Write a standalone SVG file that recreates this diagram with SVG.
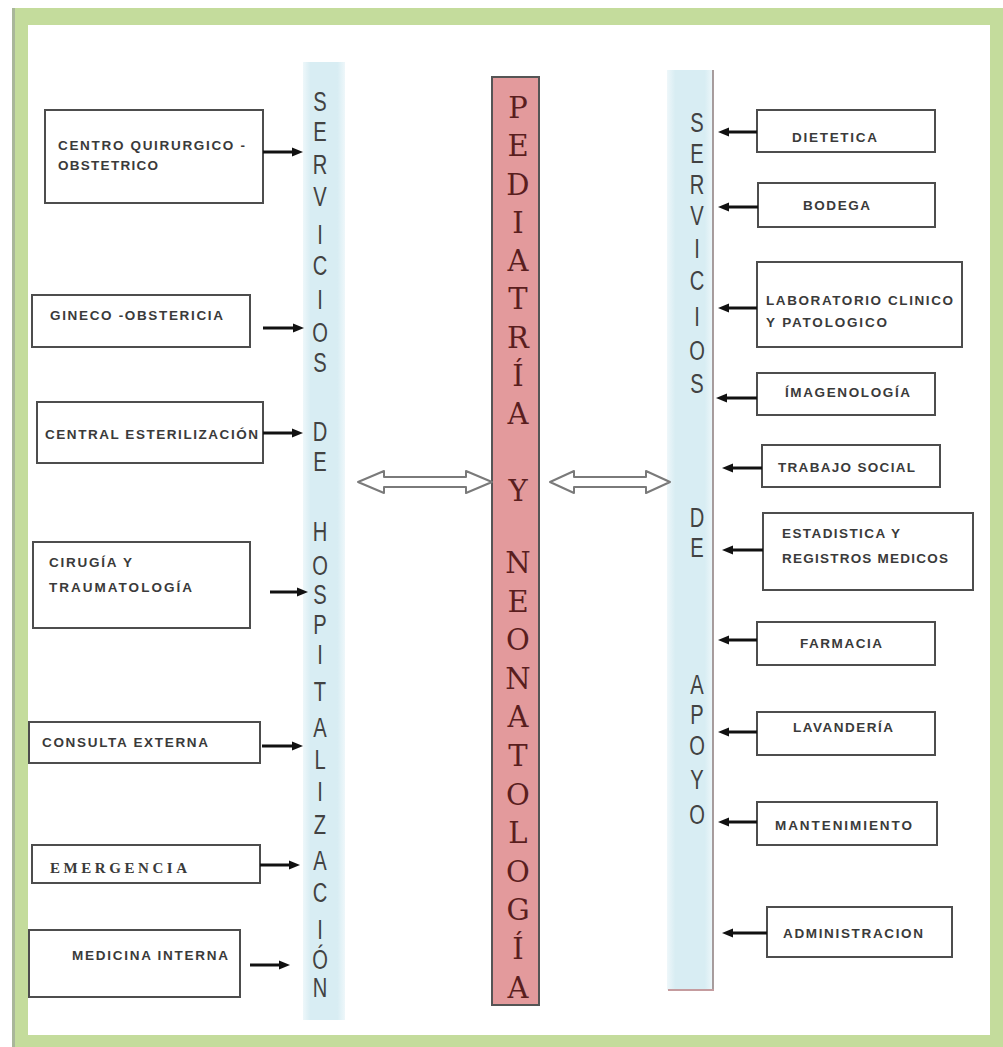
<svg xmlns="http://www.w3.org/2000/svg" width="1003" height="1047" viewBox="0 0 1003 1047">
  <defs>
    <linearGradient id="bandFill" x1="0" y1="0" x2="1" y2="0">
      <stop offset="0" stop-color="#eef7fa"/>
      <stop offset="0.18" stop-color="#d8edf3"/>
      <stop offset="0.82" stop-color="#d8edf3"/>
      <stop offset="1" stop-color="#eef7fa"/>
    </linearGradient>
    <marker id="head" markerUnits="userSpaceOnUse" markerWidth="12" markerHeight="10" refX="3" refY="5" orient="auto">
      <path d="M0,0.5 L11,5 L0,9.5 z" fill="#111"/>
    </marker>
    <style>
      .box { fill: #fff; stroke: #4d4d4d; stroke-width: 2; }
      .lbl { font-family: "Liberation Sans", Arial, sans-serif; font-size: 13.5px; font-weight: bold; fill: #3a3a3a; }
      .lblSerif { font-family: "Liberation Serif", "Times New Roman", serif; font-size: 15px; font-weight: bold; fill: #3a3a3a; }
      .band { fill: url(#bandFill); }
      .bandTxt { font-family: "Liberation Sans", Arial, sans-serif; font-size: 28px; fill: #424242; text-anchor: middle; }
      .core { fill: #e39a9c; stroke: #555; stroke-width: 2; }
      .coreTxt { font-family: "DejaVu Serif", "Liberation Serif", serif; font-size: 29px; fill: #5a1e1e; text-anchor: middle; }
      .link { stroke: #111; stroke-width: 3; fill: none; marker-end: url(#head); }
      .dbl { fill: #fff; stroke: #7a7a7a; stroke-width: 2; stroke-linejoin: round; }
    </style>
  </defs>

  <!-- page frame -->
  <rect x="12" y="8" width="991" height="1039" fill="#c4dc9c"/>
  <rect x="12" y="8" width="3" height="1039" fill="#a9b79a"/>
  <rect x="28" y="25" width="962" height="1010" fill="#fff"/>

  <!-- vertical band: servicios de hospitalizacion -->
  <g id="band-hospitalizacion">
    <rect class="band" x="303" y="62" width="42" height="958"/>
    <g transform="translate(320,0) scale(0.72,1)">
      <text class="bandTxt" x="0" y="111">S</text>
      <text class="bandTxt" x="0" y="141">E</text>
      <text class="bandTxt" x="0" y="174">R</text>
      <text class="bandTxt" x="0" y="206">V</text>
      <text class="bandTxt" x="0" y="244">I</text>
      <text class="bandTxt" x="0" y="275">C</text>
      <text class="bandTxt" x="0" y="309">I</text>
      <text class="bandTxt" x="0" y="342">O</text>
      <text class="bandTxt" x="0" y="372">S</text>
      <text class="bandTxt" x="0" y="441">D</text>
      <text class="bandTxt" x="0" y="471">E</text>
      <text class="bandTxt" x="0" y="541">H</text>
      <text class="bandTxt" x="0" y="575">O</text>
      <text class="bandTxt" x="0" y="604">S</text>
      <text class="bandTxt" x="0" y="634">P</text>
      <text class="bandTxt" x="0" y="664">I</text>
      <text class="bandTxt" x="0" y="701">T</text>
      <text class="bandTxt" x="0" y="737">A</text>
      <text class="bandTxt" x="0" y="769">L</text>
      <text class="bandTxt" x="0" y="801">I</text>
      <text class="bandTxt" x="0" y="834">Z</text>
      <text class="bandTxt" x="0" y="870">A</text>
      <text class="bandTxt" x="0" y="902">C</text>
      <text class="bandTxt" x="0" y="939">I</text>
      <text class="bandTxt" x="0" y="969">Ó</text>
      <text class="bandTxt" x="0" y="997">N</text>
    </g>
  </g>

  <!-- vertical band: servicios de apoyo -->
  <g id="band-apoyo">
    <rect class="band" x="667" y="70" width="46" height="920"/>
    <line x1="713" y1="70" x2="713" y2="990" stroke="#8c7d7d" stroke-width="1.5"/>
    <line x1="668" y1="990" x2="714" y2="990" stroke="#c59c9f" stroke-width="2"/>
    <g transform="translate(697,0) scale(0.72,1)">
      <text class="bandTxt" x="0" y="132">S</text>
      <text class="bandTxt" x="0" y="163">E</text>
      <text class="bandTxt" x="0" y="194">R</text>
      <text class="bandTxt" x="0" y="225">V</text>
      <text class="bandTxt" x="0" y="258">I</text>
      <text class="bandTxt" x="0" y="290">C</text>
      <text class="bandTxt" x="0" y="326">I</text>
      <text class="bandTxt" x="0" y="360">O</text>
      <text class="bandTxt" x="0" y="393">S</text>
      <text class="bandTxt" x="0" y="527">D</text>
      <text class="bandTxt" x="0" y="557">E</text>
      <text class="bandTxt" x="0" y="694">A</text>
      <text class="bandTxt" x="0" y="724">P</text>
      <text class="bandTxt" x="0" y="755">O</text>
      <text class="bandTxt" x="0" y="789">Y</text>
      <text class="bandTxt" x="0" y="824">O</text>
    </g>
  </g>

  <!-- central unit -->
  <g id="pediatria-neonatologia">
    <rect class="core" x="492" y="77" width="47" height="928"/>
    <text class="coreTxt" x="518" y="118">P</text>
    <text class="coreTxt" x="518" y="156">E</text>
    <text class="coreTxt" x="518" y="195">D</text>
    <text class="coreTxt" x="518" y="233">I</text>
    <text class="coreTxt" x="518" y="271">A</text>
    <text class="coreTxt" x="518" y="309">T</text>
    <text class="coreTxt" x="518" y="348">R</text>
    <text class="coreTxt" x="518" y="386">Í</text>
    <text class="coreTxt" x="518" y="424">A</text>
    <text class="coreTxt" x="518" y="501">Y</text>
    <text class="coreTxt" x="518" y="573">N</text>
    <text class="coreTxt" x="518" y="612">E</text>
    <text class="coreTxt" x="518" y="650">O</text>
    <text class="coreTxt" x="518" y="689">N</text>
    <text class="coreTxt" x="518" y="727">A</text>
    <text class="coreTxt" x="518" y="766">T</text>
    <text class="coreTxt" x="518" y="805">O</text>
    <text class="coreTxt" x="518" y="843">L</text>
    <text class="coreTxt" x="518" y="882">O</text>
    <text class="coreTxt" x="518" y="920">G</text>
    <text class="coreTxt" x="518" y="959">Í</text>
    <text class="coreTxt" x="518" y="998">A</text>
  </g>

  <!-- hospitalization services -->
  <g id="centro-quirurgico">
    <rect class="box" x="45" y="110" width="218" height="93"/>
    <text class="lbl" x="58" y="150" textLength="187" lengthAdjust="spacing">CENTRO QUIRURGICO -</text>
    <text class="lbl" x="58" y="170" textLength="100" lengthAdjust="spacing">OBSTETRICO</text>
  </g>
  <g id="gineco-obstetricia">
    <rect class="box" x="32" y="295" width="218" height="52"/>
    <text class="lbl" x="50" y="320" textLength="173" lengthAdjust="spacing">GINECO -OBSTERICIA</text>
  </g>
  <g id="central-esterilizacion">
    <rect class="box" x="37" y="402" width="226" height="61"/>
    <text class="lbl" x="45" y="439" textLength="213" lengthAdjust="spacing">CENTRAL ESTERILIZACIÓN</text>
  </g>
  <g id="cirugia-traumatologia">
    <rect class="box" x="33" y="542" width="217" height="86"/>
    <text class="lbl" x="49" y="567" textLength="83" lengthAdjust="spacing">CIRUGÍA Y</text>
    <text class="lbl" x="49" y="592" textLength="143" lengthAdjust="spacing">TRAUMATOLOGÍA</text>
  </g>
  <g id="consulta-externa">
    <rect class="box" x="29" y="722" width="231" height="41"/>
    <text class="lbl" x="42" y="747" textLength="166" lengthAdjust="spacing">CONSULTA EXTERNA</text>
  </g>
  <g id="emergencia">
    <rect class="box" x="32" y="845" width="228" height="38"/>
    <text class="lblSerif" x="50" y="873" textLength="137" lengthAdjust="spacing">EMERGENCIA</text>
  </g>
  <g id="medicina-interna">
    <rect class="box" x="29" y="930" width="211" height="67"/>
    <text class="lbl" x="72" y="960" textLength="156" lengthAdjust="spacing">MEDICINA INTERNA</text>
  </g>

  <!-- support services -->
  <g id="dietetica">
    <rect class="box" x="757" y="110" width="178" height="42"/>
    <text class="lbl" x="792" y="142" textLength="85" lengthAdjust="spacing">DIETETICA</text>
  </g>
  <g id="bodega">
    <rect class="box" x="758" y="183" width="177" height="44"/>
    <text class="lbl" x="803" y="210" textLength="67" lengthAdjust="spacing">BODEGA</text>
  </g>
  <g id="laboratorio">
    <rect class="box" x="757" y="262" width="205" height="85"/>
    <text class="lbl" x="766" y="305" textLength="187" lengthAdjust="spacing">LABORATORIO CLINICO</text>
    <text class="lbl" x="766" y="327" textLength="121" lengthAdjust="spacing">Y PATOLOGICO</text>
  </g>
  <g id="imagenologia">
    <rect class="box" x="757" y="373" width="178" height="42"/>
    <text class="lbl" x="785" y="397" textLength="125" lengthAdjust="spacing">ÍMAGENOLOGÍA</text>
  </g>
  <g id="trabajo-social">
    <rect class="box" x="762" y="445" width="178" height="42"/>
    <text class="lbl" x="778" y="472" textLength="137" lengthAdjust="spacing">TRABAJO SOCIAL</text>
  </g>
  <g id="estadistica">
    <rect class="box" x="763" y="513" width="210" height="77"/>
    <text class="lbl" x="782" y="538" textLength="118" lengthAdjust="spacing">ESTADISTICA Y</text>
    <text class="lbl" x="782" y="563" textLength="166" lengthAdjust="spacing">REGISTROS MEDICOS</text>
  </g>
  <g id="farmacia">
    <rect class="box" x="757" y="622" width="178" height="43"/>
    <text class="lbl" x="800" y="648" textLength="82" lengthAdjust="spacing">FARMACIA</text>
  </g>
  <g id="lavanderia">
    <rect class="box" x="757" y="712" width="178" height="43"/>
    <text class="lbl" x="793" y="732" textLength="100" lengthAdjust="spacing">LAVANDERÍA</text>
  </g>
  <g id="mantenimiento">
    <rect class="box" x="757" y="802" width="180" height="43"/>
    <text class="lbl" x="775" y="830" textLength="137" lengthAdjust="spacing">MANTENIMIENTO</text>
  </g>
  <g id="administracion">
    <rect class="box" x="767" y="907" width="185" height="50"/>
    <text class="lbl" x="783" y="938" textLength="140" lengthAdjust="spacing">ADMINISTRACION</text>
  </g>

  <!-- connectors -->
  <g id="connectors">
    <line class="link" x1="263" y1="152" x2="295" y2="152"/>
    <line class="link" x1="263" y1="328" x2="296" y2="328"/>
    <line class="link" x1="263" y1="433" x2="295" y2="433"/>
    <line class="link" x1="270" y1="592" x2="300" y2="592"/>
    <line class="link" x1="262" y1="746" x2="295" y2="746"/>
    <line class="link" x1="260" y1="865" x2="292" y2="865"/>
    <line class="link" x1="250" y1="965" x2="282" y2="965"/>

    <line class="link" x1="757" y1="132" x2="726" y2="132"/>
    <line class="link" x1="758" y1="207" x2="726" y2="207"/>
    <line class="link" x1="757" y1="308" x2="726" y2="308"/>
    <line class="link" x1="757" y1="398" x2="724" y2="398"/>
    <line class="link" x1="762" y1="468" x2="730" y2="468"/>
    <line class="link" x1="763" y1="550" x2="730" y2="550"/>
    <line class="link" x1="757" y1="640" x2="726" y2="640"/>
    <line class="link" x1="757" y1="732" x2="726" y2="732"/>
    <line class="link" x1="757" y1="822" x2="726" y2="822"/>
    <line class="link" x1="767" y1="933" x2="730" y2="933"/>

    <path class="dbl" d="M358,482 L384,471 L384,477 L466,477 L466,471 L492,482 L466,493 L466,487 L384,487 L384,493 Z"/>
    <path class="dbl" d="M550,482 L574,471 L574,477 L646,477 L646,471 L670,482 L646,493 L646,487 L574,487 L574,493 Z"/>
  </g>
</svg>
